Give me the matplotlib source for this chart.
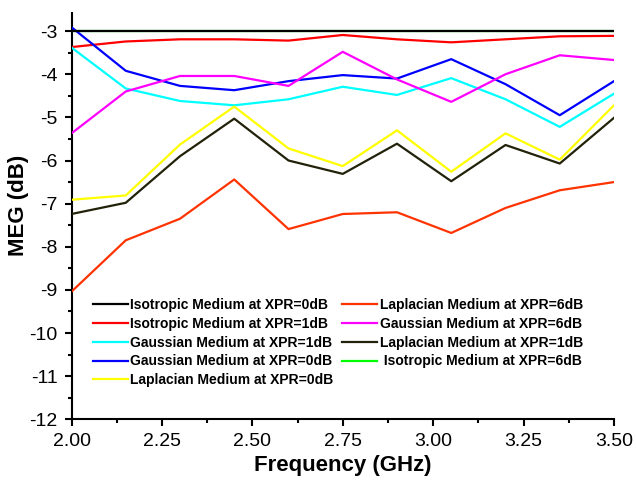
import matplotlib
matplotlib.use("Agg")
import matplotlib.pyplot as plt
from matplotlib.ticker import MultipleLocator, FormatStrFormatter

plt.rcParams['font.family'] = ['Liberation Sans', 'DejaVu Sans']

freq = [2.00, 2.15, 2.30, 2.45, 2.60, 2.75, 2.90, 3.05, 3.20, 3.35, 3.50]

iso_0 = [-3.0] * 11
iso_1 = [-3.37, -3.24, -3.19, -3.19, -3.22, -3.09, -3.19, -3.26, -3.19, -3.12, -3.11]
gau_1 = [-3.38, -4.33, -4.62, -4.72, -4.58, -4.29, -4.48, -4.09, -4.58, -5.22, -4.45]
gau_0 = [-2.91, -3.92, -4.27, -4.37, -4.16, -4.02, -4.10, -3.65, -4.23, -4.95, -4.16]
lap_0 = [-6.91, -6.81, -5.63, -4.75, -5.72, -6.13, -5.30, -6.26, -5.37, -5.98, -4.72]
lap_6 = [-9.04, -7.85, -7.35, -6.44, -7.59, -7.24, -7.20, -7.68, -7.10, -6.69, -6.50]
gau_6 = [-5.37, -4.40, -4.04, -4.04, -4.27, -3.48, -4.12, -4.64, -4.00, -3.56, -3.67]
lap_1 = [-7.24, -6.98, -5.90, -5.03, -6.00, -6.31, -5.61, -6.48, -5.64, -6.07, -5.01]
iso_6 = [-3.0] * 11

labels = [
    "Isotropic Medium at XPR=0dB",
    "Isotropic Medium at XPR=1dB",
    "Gaussian Medium at XPR=1dB",
    "Gaussian Medium at XPR=0dB",
    "Laplacian Medium at XPR=0dB",
    "Laplacian Medium at XPR=6dB",
    "Gaussian Medium at XPR=6dB",
    "Laplacian Medium at XPR=1dB",
    " Isotropic Medium at XPR=6dB",
]
series = [iso_0, iso_1, gau_1, gau_0, lap_0, lap_6, gau_6, lap_1, iso_6]
colors = ["#000000", "#ff0000", "#00ffff", "#0000ff", "#ffff00",
          "#ff3300", "#ff00ff", "#22220a", "#00ff00"]
zorders = [10, 5, 5, 5, 5, 5, 5, 5, 4]

fig = plt.figure(figsize=(6.36, 4.8), dpi=100)
ax = fig.add_axes([71.5 / 636, 60.7 / 480, 542.5 / 636, 406.3 / 480])

handles = []
for s, c, lab, z in zip(series, colors, labels, zorders):
    h, = ax.plot(freq, s, color=c, lw=1.6, label=lab, zorder=z)
    handles.append(h)

ax.set_xlim(2.0, 3.5)
ax.set_ylim(-12, -2.58)
ax.spines['top'].set_visible(False)
ax.spines['right'].set_visible(False)
for sp in ('left', 'bottom'):
    ax.spines[sp].set_linewidth(1.5)

ax.xaxis.set_major_locator(MultipleLocator(0.25))
ax.xaxis.set_minor_locator(MultipleLocator(0.125))
ax.xaxis.set_major_formatter(FormatStrFormatter('%.2f'))
ax.yaxis.set_major_locator(MultipleLocator(1))
ax.yaxis.set_minor_locator(MultipleLocator(0.5))
ax.yaxis.set_major_formatter(FormatStrFormatter('%d'))
ax.tick_params(which='major', direction='out', length=5, width=1.5,
               labelsize=14, pad=5)
ax.tick_params(which='minor', direction='out', length=3, width=1.5)

ax.set_xlabel("Frequency (GHz)", fontsize=16, fontweight='bold')
ax.xaxis.set_label_coords(0.5, -0.087)
ax.set_ylabel("MEG (dB)", fontsize=16, fontweight='bold')
ax.yaxis.set_label_coords(-0.078, 0.527)

leg = ax.legend(handles=handles, ncol=2, loc='upper left',
                bbox_to_anchor=(0.0396, 0.299), frameon=False,
                prop={'weight': 'bold', 'size': 10},
                handlelength=2.5, handletextpad=0.2, columnspacing=0.6,
                labelspacing=0.35, borderpad=0, borderaxespad=0)
for lh in leg.get_lines():
    lh.set_linewidth(1.6)

fig.savefig("out.png", dpi=100)
